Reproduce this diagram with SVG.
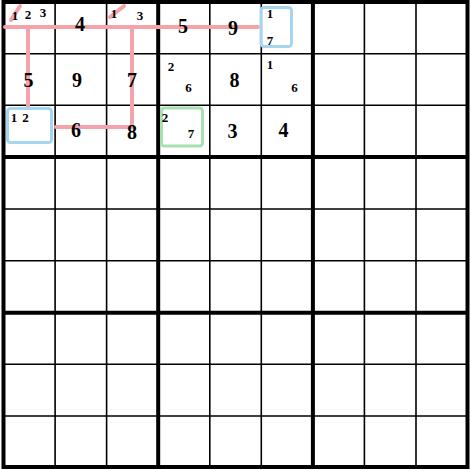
<svg xmlns="http://www.w3.org/2000/svg" width="470" height="471" viewBox="0 0 470 471">
<style>
.thin{stroke:#000;stroke-width:1.6;fill:none}
.thick{stroke:#000;stroke-width:4;fill:none}
.big{font-family:"Liberation Serif","Times New Roman",serif;font-weight:bold;font-size:20px;text-anchor:middle;fill:#000}
.sm{font-family:"Liberation Serif","Times New Roman",serif;font-weight:bold;font-size:13px;text-anchor:middle;fill:#000}
.chain{stroke:#f4a3ab;stroke-width:4;fill:none;stroke-linecap:round;stroke-linejoin:round}
.blue{stroke:#a6d6ef;stroke-width:3;fill:none}
.green{stroke:#a8e0b2;stroke-width:3;fill:none}
</style>
<rect x="0" y="0" width="470" height="471" fill="#fff"/>
<g id="grid">
<path class="thin" d="M55.1 2V467M106.6 2V467M209.8 2V467M261.3 2V467M364.4 2V467M416 2V467M3.5 53.7H467.5M3.5 105.3H467.5M3.5 209H467.5M3.5 260.7H467.5M3.5 364.3H467.5M3.5 416H467.5"/>
<path class="thick" d="M158.2 2V467M312.9 2V467M3.5 157H467.5M3.5 312.7H467.5"/>
<rect class="thick" x="3.5" y="2" width="464" height="465"/>
</g>
<g id="connectors">
<path class="chain" d="M5 27H258"/>
<path class="chain" d="M28 27V107"/>
<path class="chain" d="M132 27V127H56"/>
<path class="chain" d="M11 20L20 6"/>
<path class="chain" d="M110 17L124 6"/>
</g>
<g id="highlights">
<rect class="blue" x="7.5" y="108.5" width="44" height="34" rx="3"/>
<rect class="blue" x="261" y="7.5" width="30.5" height="39" rx="3"/>
<rect class="green" x="161.5" y="108" width="41" height="38" rx="3"/>
</g>
<g id="r1">
<text class="sm" x="15" y="20" font-size="15">1</text>
<text class="sm" x="28" y="19">2</text>
<text class="sm" x="43" y="17">3</text>
<text class="big" x="80" y="31">4</text>
<text class="sm" x="114" y="18">1</text>
<text class="sm" x="140" y="20">3</text>
<text class="big" x="183" y="33">5</text>
<text class="big" x="233" y="35">9</text>
<text class="sm" x="270" y="18">1</text>
<text class="sm" x="270" y="45">7</text>
</g>
<g id="r2">
<text class="big" x="28.5" y="87">5</text>
<text class="big" x="77" y="87">9</text>
<text class="big" x="132" y="87">7</text>
<text class="sm" x="171" y="71">2</text>
<text class="sm" x="188.5" y="92">6</text>
<text class="big" x="234.5" y="87">8</text>
<text class="sm" x="270" y="69">1</text>
<text class="sm" x="294.5" y="92">6</text>
</g>
<g id="r3">
<text class="sm" x="14" y="122" font-size="14">1</text>
<text class="sm" x="25.5" y="122">2</text>
<text class="big" x="76" y="137">6</text>
<text class="big" x="132" y="139">8</text>
<text class="sm" x="165" y="122">2</text>
<text class="sm" x="191" y="138">7</text>
<text class="big" x="232.5" y="138">3</text>
<text class="big" x="283.5" y="137">4</text>
</g>
</svg>
